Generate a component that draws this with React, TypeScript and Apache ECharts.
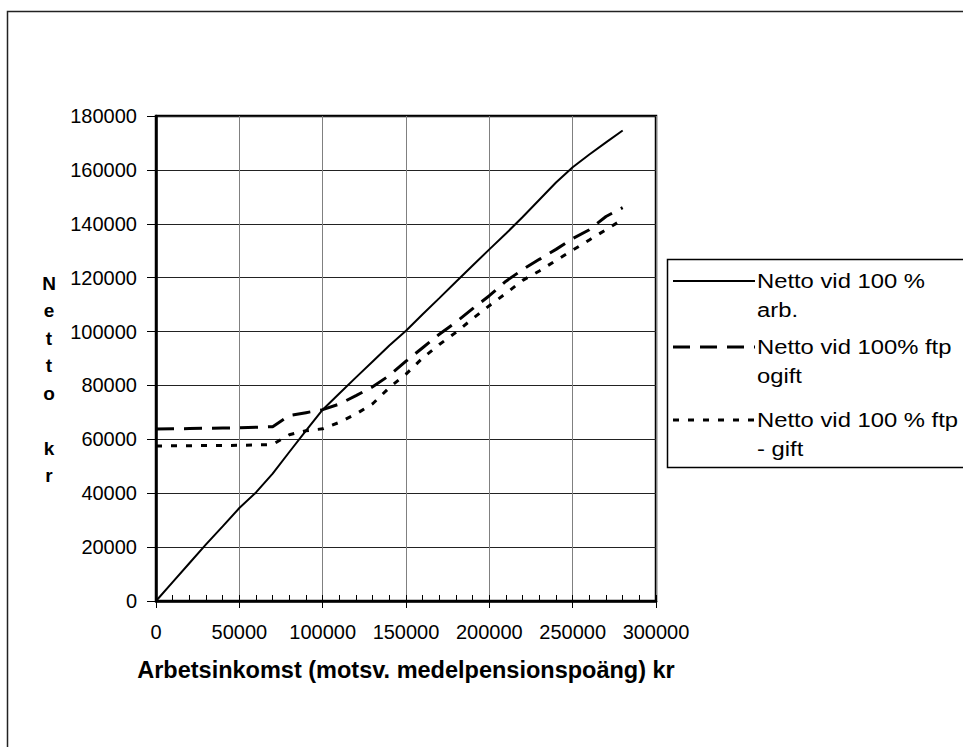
import React, { useEffect, useRef } from "react";
import * as echarts from "echarts";

// Income (x) values, kr
const incomes = [
  0, 10000, 20000, 30000, 40000, 50000, 60000, 70000, 80000, 90000, 100000,
  110000, 120000, 130000, 140000, 150000, 160000, 170000, 180000, 190000, 200000,
  210000, 220000, 230000, 240000, 250000, 260000, 270000, 280000,
];
// Netto vid 100 % arb.
const nettoArb = [
  0, 7000, 14000, 21000, 27700, 34500, 40300, 47300, 55300, 63200, 71000,
  77000, 83000, 88900, 94800, 100300, 106400, 112400, 118500, 124500, 130500,
  136400, 142500, 148900, 155300, 161000, 165700, 170200, 174600,
];
// Netto vid 100% ftp ogift
const nettoOgift = [
  63800, 63900, 64000, 64100, 64200, 64300, 64500, 64700, 68800, 69900, 71000,
  73100, 76200, 79500, 83700, 89000, 94000, 99000, 103500, 108500, 113300,
  118700, 123000, 126800, 130500, 134500, 137800, 142700, 146000,
];
// Netto vid 100 % ftp - gift
const nettoGift = [
  57500, 57600, 57600, 57700, 57700, 57800, 57900, 58100, 61700, 63200, 63900,
  66300, 69400, 73200, 79200, 84200, 90200, 95200, 99700, 104800, 109600,
  114200, 119000, 122500, 126400, 130200, 134000, 137800, 141600,
];

const seriesNames = [
  "Netto vid 100 % arb.",
  "Netto vid 100% ftp ogift",
  "Netto vid 100 % ftp - gift",
];
const legendLines = [
  ["Netto vid 100 %", "arb."],
  ["Netto vid 100% ftp", "ogift"],
  ["Netto vid 100 % ftp", "- gift"],
];
const xTitle = "Arbetsinkomst (motsv. medelpensionspoäng) kr";
const yTitleLetters = ["N", "e", "t", "t", "o", "", "k", "r"];

const xMin = 0;
const xMax = 300000;
const xStep = 50000;
const xMinorSplit = 5;
const yMin = 0;
const yMax = 180000;
const yStep = 20000;

const FONT = '"Liberation Sans", Arial, sans-serif';

export default function App() {
  const ref = useRef<HTMLDivElement>(null);

  useEffect(() => {
    if (!ref.current) return;
    const chart = echarts.init(ref.current, undefined, { renderer: "svg" });

    const lineStyles = [
      { width: 2, type: "solid" as any },
      { width: 3, type: [18, 10] as any },
      { width: 3, type: [6, 9] as any },
    ];
    const legendDash = [null, [17, 10], [6, 9]];
    const legendY = [281, 347, 420];
    const seriesData = [nettoArb, nettoOgift, nettoGift];
    const plain = (v: number) => String(v);

    const graphic: any[] = [];
    // outer chart border
    graphic.push({
      type: "rect",
      z: 0,
      silent: true,
      shape: { x: 7.5, y: 11.5, width: 1000, height: 800 },
      style: { fill: "none", stroke: "#222", lineWidth: 1.5 },
    });
    // legend box
    graphic.push({
      type: "rect",
      z: 10,
      silent: true,
      shape: { x: 667.5, y: 259.5, width: 400, height: 208 },
      style: { fill: "#fff", stroke: "#000", lineWidth: 1.5 },
    });
    legendLines.forEach((lines, i) => {
      const y = legendY[i];
      graphic.push({
        type: "line",
        z: 11,
        silent: true,
        shape: { x1: 673, y1: y, x2: 755, y2: y },
        style: {
          stroke: "#000",
          lineWidth: lineStyles[i].width,
          lineDash: legendDash[i] || undefined,
        },
      });
      lines.forEach((t, j) => {
        graphic.push({
          type: "text",
          z: 11,
          silent: true,
          x: 757,
          y: y + j * 29,
          scaleX: 1.19,
          style: {
            text: t,
            fill: "#000",
            fontSize: 20,
            fontFamily: FONT,
            align: "left",
            verticalAlign: "middle",
          },
        });
      });
    });
    // y-axis title, stacked letters
    yTitleLetters.forEach((ch, i) => {
      if (!ch) return;
      graphic.push({
        type: "text",
        silent: true,
        x: 49,
        y: 283 + i * 27.5,
        style: {
          text: ch,
          fill: "#000",
          fontSize: 19,
          fontWeight: "bold",
          fontFamily: FONT,
          align: "center",
          verticalAlign: "middle",
        },
      });
    });

    chart.setOption({
      animation: false,
      backgroundColor: "#fff",
      textStyle: { fontFamily: FONT, color: "#000" },
      grid: {
        left: 156,
        top: 116,
        width: 500,
        height: 485,
        show: true,
        borderColor: "#000",
        borderWidth: 2.5,
        backgroundColor: "transparent",
        containLabel: false,
      },
      xAxis: [
        {
          type: "value",
          min: xMin,
          max: xMax,
          interval: xStep,
          position: "bottom",
          axisLine: { show: true, onZero: false, lineStyle: { color: "#000", width: 2.5 } },
          axisTick: { show: true, inside: true, length: 6, lineStyle: { color: "#000", width: 1 } },
          minorTick: { show: true, splitNumber: xMinorSplit, length: 6, lineStyle: { color: "#000", width: 1 } },
          axisLabel: { color: "#000", fontSize: 20, fontFamily: FONT, margin: 21, formatter: plain },
          splitLine: { show: true, lineStyle: { color: "#808080", width: 1 } },
          name: xTitle,
          nameLocation: "middle",
          nameGap: 57,
          nameTextStyle: { color: "#000", fontSize: 23.5, fontWeight: "bold", fontFamily: FONT },
        },
        {
          type: "value",
          min: xMin,
          max: xMax,
          interval: xStep,
          position: "bottom",
          offset: 0,
          axisLine: { show: false, onZero: false },
          axisTick: { show: true, inside: false, length: 7, lineStyle: { color: "#000", width: 1 } },
          axisLabel: { show: false },
          splitLine: { show: false },
        },
      ],
      yAxis: {
        type: "value",
        min: yMin,
        max: yMax,
        interval: yStep,
        axisLine: { show: true, lineStyle: { color: "#000", width: 2.5 } },
        axisTick: { show: true, inside: false, length: 9, lineStyle: { color: "#000", width: 1 } },
        axisLabel: { color: "#000", fontSize: 20, fontFamily: FONT, margin: 19, formatter: plain },
        splitLine: { show: true, lineStyle: { color: "#222", width: 1 } },
      },
      series: seriesData.map((arr, i) => ({
        name: seriesNames[i],
        type: "line",
        xAxisIndex: 0,
        yAxisIndex: 0,
        symbol: "none",
        showSymbol: false,
        silent: true,
        data: incomes.map((x, k) => [x, arr[k]]),
        lineStyle: { color: "#000", width: lineStyles[i].width, type: lineStyles[i].type },
      })),
      graphic,
    });

    return () => chart.dispose();
  }, []);

  return (
    <div
      ref={ref}
      style={{ position: "absolute", left: 0, top: 0, width: 963, height: 747 }}
    />
  );
}
